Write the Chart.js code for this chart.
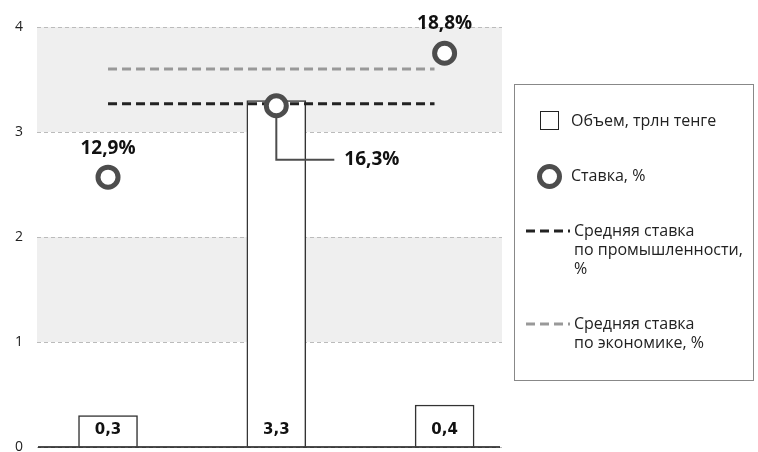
<!DOCTYPE html>
<html>
<head>
<meta charset="utf-8">
<script src="https://cdn.jsdelivr.net/npm/chart.js@4"></script>
<style>
  html, body { margin: 0; padding: 0; background: #fff; }
  #wrap { position: relative; width: 758px; height: 452px; }
  #chart { display: block; }
  #legend {
    position: absolute; left: 514px; top: 84px; width: 238px; height: 295px;
    border: 1px solid #888; font-family: "Open Sans", sans-serif; font-size: 16px; color: #222;
  }
  .item { position: absolute; line-height: 19px; }
  .sym { position: absolute; }
</style>
</head>
<body>
<div id="wrap">
  <canvas id="chart" width="758" height="452"></canvas>
  <div id="legend"></div>
</div>
<script>
'use strict';

// three unlabeled groups, placed at x = 0, 1, 2
const categories = [0, 1, 2];
const volume = [0.3, 3.3, 0.4];
const volumeLabels = ['0,3', '3,3', '0,4'];
const rate = [2.57, 3.25, 3.75];
const rateLabels = ['12,9%', '16,3%', '18,8%'];
const industryAvg = [3.27, 3.27];
const economyAvg = [3.6, 3.6];
const avgSpan = [0, 1.94];
const yTicks = [0, 1, 2, 3, 4];
const legendNames = ['Объем, трлн тенге', 'Ставка, %', 'Средняя ставка\nпо промышленности,\n%', 'Средняя ставка\nпо экономике, %'];

let canvasElem = document.getElementById('chart');

// light grey bands between 1-2 and 3-4
const bandsPlugin = {
  id: 'bands',
  beforeDraw(chart) {
    let ctx = chart.ctx;
    let y = chart.scales.y;
    let area = chart.chartArea;
    ctx.save();
    ctx.fillStyle = '#efefef';
    [[1, 2], [3, 4]].forEach(function (b) {
      let top = y.getPixelForValue(b[1]);
      let bottom = y.getPixelForValue(b[0]);
      ctx.fillRect(area.left, top, area.right - area.left, bottom - top);
    });
    ctx.restore();
  }
};

// value labels for bars and points, zero line, leader line for the middle point
const labelsPlugin = {
  id: 'labels',
  afterDatasetsDraw(chart) {
    let ctx = chart.ctx;
    let area = chart.chartArea;
    let bars = chart.getDatasetMeta(3).data;
    let pts = chart.getDatasetMeta(0).data;
    ctx.save();
    // baseline
    let y0 = chart.scales.y.getPixelForValue(0);
    ctx.strokeStyle = '#111';
    ctx.lineWidth = 1.5;
    ctx.beginPath();
    ctx.moveTo(area.left + 1, y0);
    ctx.lineTo(area.right - 2, y0);
    ctx.stroke();

    ctx.textAlign = 'center';
    ctx.textBaseline = 'middle';
    ctx.fillStyle = '#111';
    ctx.font = 'bold 15px "DejaVu Sans"';
    for (let i = 0; i < bars.length; i++) {
      ctx.fillText(volumeLabels[i], bars[i].x, bars[i].base - 16);
    }
    ctx.font = 'bold 19px "Open Sans"';
    ctx.fillText(rateLabels[0], pts[0].x, pts[0].y - 29);
    ctx.fillText(rateLabels[2], pts[2].x, pts[2].y - 30);
    // leader line
    let p = pts[1];
    ctx.strokeStyle = '#4d4d4d';
    ctx.lineWidth = 2;
    ctx.beginPath();
    ctx.moveTo(p.x, p.y + 12);
    ctx.lineTo(p.x, p.y + 54);
    ctx.lineTo(p.x + 58, p.y + 54);
    ctx.stroke();
    ctx.textAlign = 'left';
    ctx.fillText(rateLabels[1], p.x + 68, p.y + 54);
    ctx.restore();
  }
};

function pairs(xs, ys) {
  return xs.map(function (x, i) { return { x: x, y: ys[i] }; });
}

new Chart(canvasElem, {
  type: 'bar',
  data: {
    datasets: [{
      type: 'scatter',
      label: legendNames[1],
      data: pairs(categories, rate),
      pointRadius: 10,
      pointHoverRadius: 10,
      borderWidth: 5,
      borderColor: '#4d4d4d',
      backgroundColor: '#fff',
      order: 0
    },
    {
      type: 'line',
      label: legendNames[2],
      data: pairs(avgSpan, industryAvg),
      borderColor: '#222',
      borderWidth: 3,
      borderDash: [9, 5],
      pointRadius: 0,
      order: 1
    },
    {
      type: 'line',
      label: legendNames[3],
      data: pairs(avgSpan, economyAvg),
      borderColor: '#999',
      borderWidth: 3,
      borderDash: [9, 5],
      pointRadius: 0,
      order: 1
    },
    {
      label: legendNames[0],
      data: pairs(categories, volume),
      backgroundColor: '#fff',
      borderColor: '#333',
      borderWidth: 1.5,
      barThickness: 59,
      order: 2
    }]
  },
  options: {
    responsive: false,
    animation: false,
    layout: { autoPadding: false, padding: { top: 27, right: 256, bottom: 5, left: 0 } },
    plugins: {
      legend: { display: false },
      tooltip: { enabled: false }
    },
    scales: {
      x: {
        type: 'linear',
        display: false,
        offset: false,
        min: -0.422,
        max: 2.341
      },
      y: {
        min: 0,
        max: 4,
        afterBuildTicks: function (scale) {
          scale.ticks = yTicks.map(function (v) { return { value: v }; });
        },
        ticks: {
          color: '#222',
          padding: 14,
          font: { family: 'Open Sans', size: 14 }
        },
        grid: { color: '#bbb', lineWidth: 1, drawTicks: false },
        border: { display: false, dash: [4, 3] },
        afterFit: function (scale) {
          scale.width = 37;
          scale.paddingTop = 0;
          scale.paddingBottom = 0;
        }
      }
    }
  },
  plugins: [bandsPlugin, labelsPlugin]
});

// HTML legend
let legend = document.getElementById('legend');
let rows = [
  { top: 36, left: 56, sym: '<div class="sym" style="left:25px;top:26px;width:17px;height:17px;border:1.5px solid #222;"></div>' },
  { top: 91, left: 56, sym: '<div class="sym" style="left:22px;top:79px;width:15px;height:15px;border:5px solid #4d4d4d;border-radius:50%;"></div>' },
  { top: 146, left: 59, sym: '<svg class="sym" style="left:11px;top:143px" width="44" height="6"><line x1="0" y1="3" x2="44" y2="3" stroke="#222" stroke-width="3" stroke-dasharray="9,5"/></svg>' },
  { top: 239, left: 59, sym: '<svg class="sym" style="left:11px;top:236px" width="44" height="6"><line x1="0" y1="3" x2="44" y2="3" stroke="#999" stroke-width="3" stroke-dasharray="9,5"/></svg>' }
];
let html = '';
for (let i = 0; i < rows.length; i++) {
  html += rows[i].sym;
  html += '<div class="item" style="left:' + rows[i].left + 'px;top:' + (rows[i].top - 10) + 'px">' +
    legendNames[i].split('\n').join('<br>') + '</div>';
}
legend.innerHTML = html;
</script>
</body>
</html>
